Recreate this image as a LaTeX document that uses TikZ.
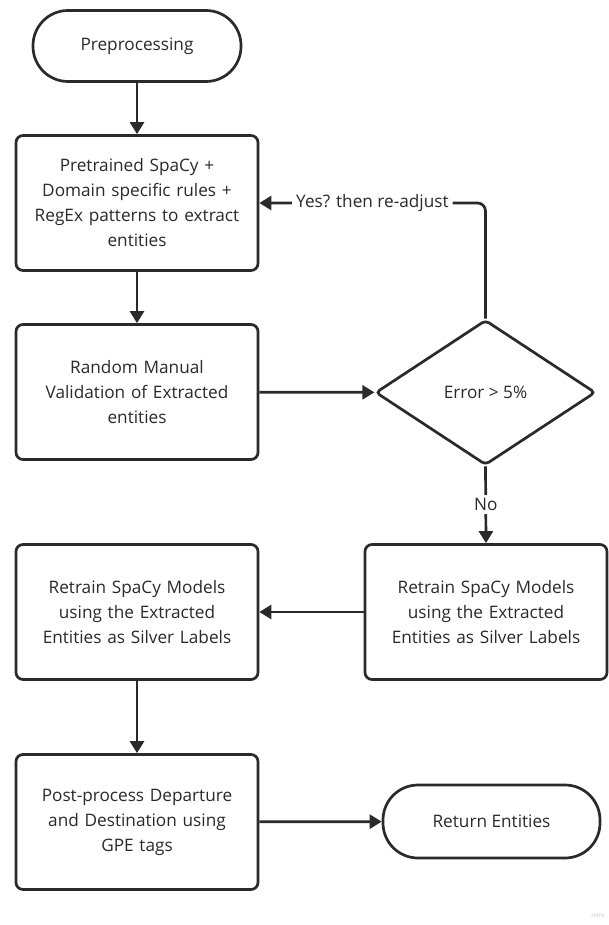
\documentclass[tikz,border=0pt]{standalone}
\usepackage{fontspec}
\setmainfont{Open Sans}
\usetikzlibrary{arrows.meta,shapes.geometric}
\definecolor{ink}{HTML}{2A2A2A}
\begin{document}
\begin{tikzpicture}[x=1pt,y=-1pt,
    every node/.style={font=\fontsize{17.2}{25}\selectfont, text=ink},
    term/.style={draw=ink, line width=2.7pt, rounded corners=35pt, fill=white},
    proc/.style={draw=ink, line width=2.7pt, rounded corners=7pt, fill=white,
      minimum width=242pt, minimum height=135pt, text width=215pt, align=center},
    decide/.style={diamond, draw=ink, line width=2.7pt, rounded corners=4pt,
      minimum width=220pt, minimum height=145pt, inner sep=0pt},
    arr/.style={draw=ink, line width=2.7pt, -{Triangle[length=12pt,width=14pt]}}]
  \useasboundingbox (0,0) rectangle (609,925);
  \node[term, minimum width=208pt, minimum height=71pt] (pre) at (137,46) {Preprocessing};
  \node[proc] (spacy) at (137,203) {Pretrained SpaCy +\\ Domain specific rules +\\ RegEx patterns to extract\\ entities};
  \node[proc] (valid) at (137,392) {Random Manual\\ Validation of Extracted\\ entities};
  \node[decide] (err) at (485.5,392.5) {Error > 5\%};
  \node[proc] (retrainR) at (486,612) {Retrain SpaCy Models\\ using the Extracted\\ Entities as Silver Labels};
  \node[proc] (retrainL) at (137,612) {Retrain SpaCy Models\\ using the Extracted\\ Entities as Silver Labels};
  \node[proc] (post) at (137,822) {Post-process Departure\\ and Destination using\\ GPE tags};
  \node[term, minimum width=217pt, minimum height=73pt] (ret) at (491.5,821.5) {Return Entities};
  \node[font=\fontsize{6}{7}\selectfont, text=black!25] (miro) at (598,915) {miro};
  \begin{scope}
    \draw[arr] (pre) -- (spacy);
    \draw[arr] (spacy) -- (valid);
    \draw[arr] (valid) -- (err);
    \draw[arr, rounded corners=8pt] (err.north) |- node[pos=0.75, fill=white, inner xsep=4pt] {Yes? then re-adjust} (spacy.east);
    \draw[arr] (err.south) -- node[fill=white, inner xsep=3pt] {No} (retrainR.north);
    \draw[arr] (retrainR) -- (retrainL);
    \draw[arr] (retrainL) -- (post);
    \draw[arr] (post) -- (ret);
  \end{scope}
\end{tikzpicture}
\end{document}
